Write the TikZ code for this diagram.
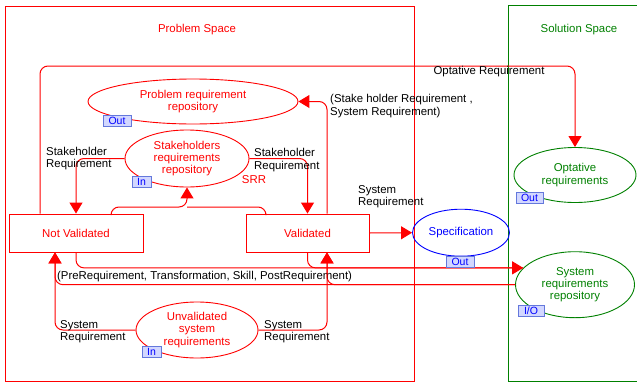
\documentclass[tikz,border=0pt]{standalone}
\usepackage{fontspec}
\setmainfont{Liberation Sans}
\usetikzlibrary{arrows.meta,shapes.geometric}
\definecolor{myred}{RGB}{255,0,0}
\definecolor{mygreen}{RGB}{0,128,0}
\definecolor{myblue}{RGB}{0,0,255}
\definecolor{portfill}{RGB}{210,215,255}
\definecolor{portdraw}{RGB}{100,120,220}
\tikzset{
  conn/.style={draw=myred, line width=1pt, rounded corners=8pt, -{Triangle[length=11pt,width=13pt]}},
  plain/.style={draw=myred, line width=1pt, rounded corners=8pt},
  ell/.style={ellipse, draw=#1, text=#1, align=center, inner sep=0pt, line width=0.9pt},
  box/.style={rectangle, draw=myred, text=myred, align=center, inner sep=0pt, line width=0.9pt, minimum height=38pt},
  lbl/.style={text=black, align=left, anchor=west, inner sep=0pt},
  port/.style={rectangle, draw=portdraw, fill=portfill, text=myblue, inner sep=0pt, line width=0.8pt, font=\fontsize{10.5}{11}\selectfont},
  title/.style={inner sep=0pt}
}
\begin{document}
\begin{tikzpicture}[x=1pt, y=-1pt, font=\fontsize{11.4}{12.3}\selectfont]
\useasboundingbox (0,0) rectangle (637,383);
% frames
\draw[myred, line width=0.9pt] (5,6) rectangle (414,381);
\draw[mygreen, line width=0.9pt] (640,5) -- (508,5) -- (508,381) -- (640,381);
\node[title, text=myred] (ps) at (197,30) {Problem Space};
\node[title, text=mygreen] (ss) at (579,30) {Solution Space};
% nodes
\node[ell=myred, minimum width=210pt, minimum height=45pt] (prr) at (193,101.5) {Problem requirement\\repository};
\node[ell=myred, minimum width=124pt, minimum height=57pt] (srr) at (187,158.5) {Stakeholders\\requirements\\repository};
\node[text=myred, inner sep=0pt] (srrl) at (254,180) {SRR};
\node[ell=mygreen, minimum width=122pt, minimum height=55pt] (ore) at (575,175) {Optative\\requirements};
\node[ell=myblue, minimum width=97pt, minimum height=47pt] (spec) at (461,232.7) {Specification};
\node[ell=mygreen, minimum width=119pt, minimum height=66pt] (srq) at (575,284.7) {System\\requirements\\repository};
\node[ell=myred, minimum width=122pt, minimum height=56pt] (usr) at (197,330) {Unvalidated\\system\\requirements};
\node[box, minimum width=134pt] (nv) at (76,233) {Not Validated};
\node[box, minimum width=123pt] (vd) at (307.5,233) {Validated};
% connectors
\draw[conn] (nv.north -| 40,0) |- (ore.north |- 0,66) -- (ore.north);
\node[text=black, inner sep=0pt] (l1) at (489,72) {Optative Requirement};
\draw[conn] (vd.north -| 327,0) |- (prr.east);
\node[lbl] (l2) at (330,106) {(Stake holder Requirement ,\\System Requirement)};
\draw[conn] (srr.west) -| (nv.north);
\node[lbl] (l3) at (46,158.5) {Stakeholder\\Requirement};
\draw[conn] (srr.east) -| (vd.north);
\node[lbl] (l4) at (254,160) {Stakeholder\\Requirement};
\draw[conn] (nv.north -| 111,0) |- (187,207) -- (srr.south);
\draw[plain] (vd.north -| 266,0) |- (187,207);
\draw[conn] (vd.east) -- (spec.west);
\node[lbl] (l5) at (358,197) {System\\Requirement};
\draw[conn] (nv.south) |- (srq.162);
\draw[plain] (vd.south) |- (srq.162);
\draw[conn] (srq.west) -| (nv.south -| 55,0);
\draw[conn] (srq.west) -| (vd.south -| 327,0);
\node[lbl] (l6) at (57,277) {(PreRequirement, Transformation, Skill, PostRequirement)};
\draw[conn] (usr.west) -| (nv.south -| 55,0);
\draw[conn] (usr.east) -| (vd.south -| 327,0);
\node[lbl] (l7) at (60,331.5) {System\\Requirement};
\node[lbl] (l8) at (264,331.5) {System\\Requirement};
% ports
\node[port, minimum width=28pt, minimum height=11pt] (p1) at (117,120.5) {Out};
\node[port, minimum width=19pt, minimum height=11pt] (p2) at (141.5,181.5) {In};
\node[port, minimum width=27pt, minimum height=10.5pt] (p3) at (529.5,197.7) {Out};
\node[port, minimum width=28pt, minimum height=10.5pt] (p4) at (460,261.7) {Out};
\node[port, minimum width=26pt, minimum height=11pt] (p5) at (531,311) {I/O};
\node[port, minimum width=19pt, minimum height=11.5pt] (p6) at (151.5,351.8) {In};
\end{tikzpicture}
\end{document}
